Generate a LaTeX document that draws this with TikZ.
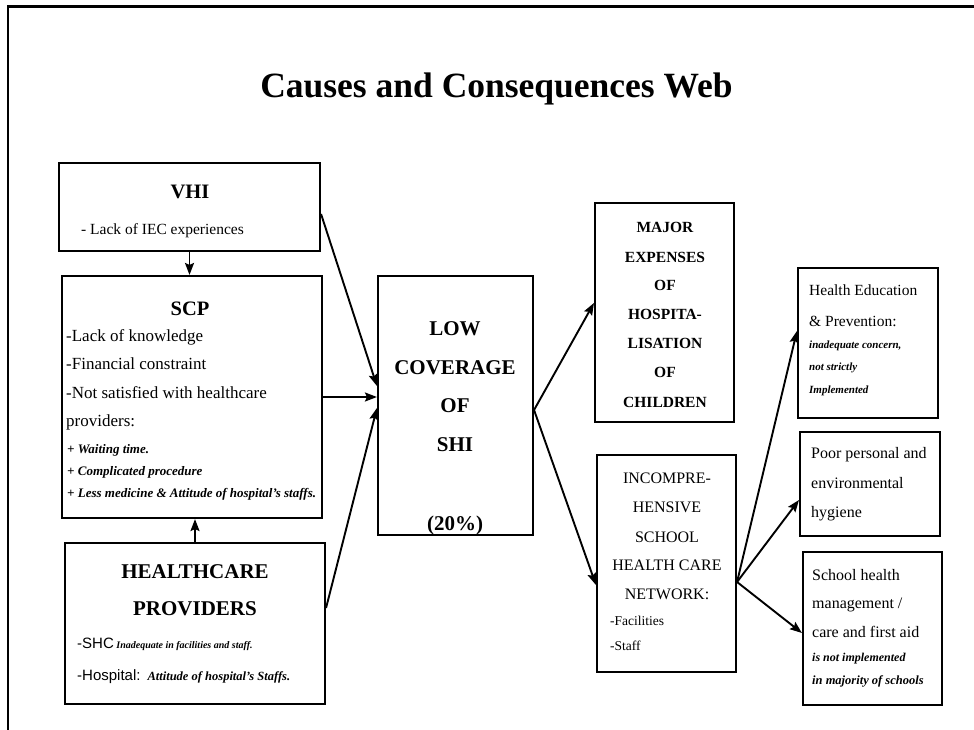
\documentclass[tikz,border=0pt]{standalone}
\usepackage{fontspec}
\setmainfont{Liberation Serif}
\newfontfamily\arialfont{Liberation Sans}
\usetikzlibrary{arrows.meta,calc}
\newcommand{\fs}[1]{\fontsize{#1}{#1}\selectfont}
\begin{document}
\begin{tikzpicture}[x=1pt,y=-1pt,
  >={Stealth[length=12pt,width=9pt,inset=2pt]},
  box/.style={draw, line width=2.1pt, inner sep=0pt},
  arr/.style={->, line width=1.9pt},
  ctext/.style={inner sep=0pt, anchor=mid},
  ltext/.style={inner sep=0pt, anchor=mid west},
  hdA/.style={ctext, font=\fs{20.5}\bfseries},
  hdB/.style={ctext, font=\fs{21}\bfseries},
  body/.style={ltext, font=\fs{17}},
  smallbi/.style={ltext, font=\fs{13}\bfseries\itshape},
  mj/.style={ctext, font=\fs{15.5}\bfseries},
  inctx/.style={ctext, font=\fs{16}},
  rtx/.style={ltext, font=\fs{16}},
  rsm/.style={ltext, font=\fs{11}\bfseries\itshape}
]
\useasboundingbox (0,0) rectangle (974,730);
% frame
\draw[line width=2.6pt] (8,730) -- (8,6.5) -- (974,6.5);

% title
\node[ctext, font=\fs{35.5}\bfseries] (title) at (496.5,95) {Causes and Consequences Web};

% boxes
\node[box, minimum width=261pt, minimum height=88pt]  (vhi)    at (189.5,207) {};
\node[box, minimum width=260pt, minimum height=242pt] (scp)    at (192,397) {};
\node[box, minimum width=260pt, minimum height=161pt] (hp)     at (195,623.5) {};
\node[box, minimum width=155pt, minimum height=259pt] (low)    at (455.5,405.5) {};
\node[box, minimum width=139pt, minimum height=219pt] (major)  at (664.5,312.5) {};
\node[box, minimum width=139pt, minimum height=217pt] (inc)    at (666.5,563.5) {};
\node[box, minimum width=140pt, minimum height=150pt] (hed)    at (868,343) {};
\node[box, minimum width=140pt, minimum height=104pt] (poor)   at (870,484) {};
\node[box, minimum width=139pt, minimum height=153pt] (school) at (872.5,628.5) {};

% VHI
\node[hdA] (vhiT) at (190,196) {VHI};
\node[ltext, font=\fs{15.5}] (vhi1) at (81,232) {- Lack of IEC experiences};

% SCP
\node[hdA] (scpT) at (190,313) {SCP};
\node[body] (scp1) at (66,339) {-Lack of knowledge};
\node[body] (scp2) at (66,367) {-Financial constraint};
\node[body] (scp3) at (66,396) {-Not satisfied with healthcare};
\node[body] (scp4) at (66,424) {providers:};
\node[smallbi] (scp5) at (67,451) {+ Waiting time.};
\node[smallbi] (scp6) at (67,473) {+ Complicated procedure};
\node[smallbi] (scp7) at (67,495) {+ Less medicine \& Attitude of hospital’s staffs.};

% Healthcare providers
\node[hdB] (hpT1) at (195,576) {HEALTHCARE};
\node[hdB] (hpT2) at (195,613) {PROVIDERS};
\node[ltext] (hp1) at (77,646) {{\arialfont\fs{15}-SHC} {\fs{10}\bfseries\itshape Inadequate in facilities and staff.}};
\node[ltext] (hp2) at (77,678) {{\arialfont\fs{15}-Hospital:}\hspace{7pt}{\fs{12.5}\bfseries\itshape Attitude of hospital’s Staffs.}};

% Low coverage
\node[hdB] (l1) at (455,333) {LOW};
\node[hdB] (l2) at (455,372) {COVERAGE};
\node[hdB] (l3) at (455,410) {OF};
\node[hdB] (l4) at (455,449) {SHI};
\node[hdB] (l5) at (455,528) {(20\%)};

% Major expenses
\node[mj] (m1) at (665,230) {MAJOR};
\node[mj] (m2) at (665,260) {EXPENSES};
\node[mj] (m3) at (665,288) {OF};
\node[mj] (m4) at (665,317) {HOSPITA-};
\node[mj] (m5) at (665,346) {LISATION};
\node[mj] (m6) at (665,375) {OF};
\node[mj] (m7) at (665,405) {CHILDREN};

% Incomprehensive
\node[inctx] (i1) at (667,481) {INCOMPRE-};
\node[inctx] (i2) at (667,510) {HENSIVE};
\node[inctx] (i3) at (667,540) {SCHOOL};
\node[inctx] (i4) at (667,568) {HEALTH CARE};
\node[inctx] (i5) at (667,597) {NETWORK:};
\node[ltext, font=\fs{13.5}] (i6) at (610,623) {-Facilities};
\node[ltext, font=\fs{13.5}] (i7) at (610,648) {-Staff};

% Health education
\node[rtx, font=\fs{15.5}] (h1) at (809,293) {Health Education};
\node[rtx, font=\fs{15.5}] (h2) at (809,324) {\& Prevention:};
\node[rsm] (h3) at (809,346) {inadequate concern,};
\node[rsm] (h4) at (809,368) {not strictly};
\node[rsm] (h5) at (809,391) {Implemented};

% Poor personal
\node[rtx] (p1) at (811,456) {Poor personal and};
\node[rtx] (p2) at (811,486) {environmental};
\node[rtx] (p3) at (811,515) {hygiene};

% School health
\node[rtx] (s1) at (812,578) {School health};
\node[rtx] (s2) at (812,606) {management /};
\node[rtx] (s3) at (812,635) {care and first aid};
\node[ltext, font=\fs{12}\bfseries\itshape] (s4) at (812,659) {is not implemented};
\node[ltext, font=\fs{12.5}\bfseries\itshape] (s5) at (812,682) {in majority of schools};

% connectors
\draw[arr] (vhi.south) -- (vhi.south |- scp.north);
\draw[arr] (hp.north) -- (hp.north |- scp.south);
\draw[arr] ([yshift=-7pt]vhi.east) -- ([yshift=19.5pt]low.west);
\draw[arr] (scp.east) -- (scp.east -| low.west);
\draw[arr] ([yshift=15.5pt]hp.east) -- ([yshift=-2.5pt]low.west);
\draw[arr] ([yshift=-4.5pt]low.east) -- ([yshift=9.5pt]major.west);
\draw[arr] ([yshift=-4.5pt]low.east) -- ([yshift=-21.5pt]inc.west);
\draw[arr] ([yshift=-18.5pt]inc.east) -- ([yshift=12pt]hed.west);
\draw[arr] ([yshift=-18.5pt]inc.east) -- ([yshift=-16pt]poor.west);
\draw[arr] ([yshift=-18.5pt]inc.east) -- ([yshift=-4.5pt]school.west);
\end{tikzpicture}
\end{document}
